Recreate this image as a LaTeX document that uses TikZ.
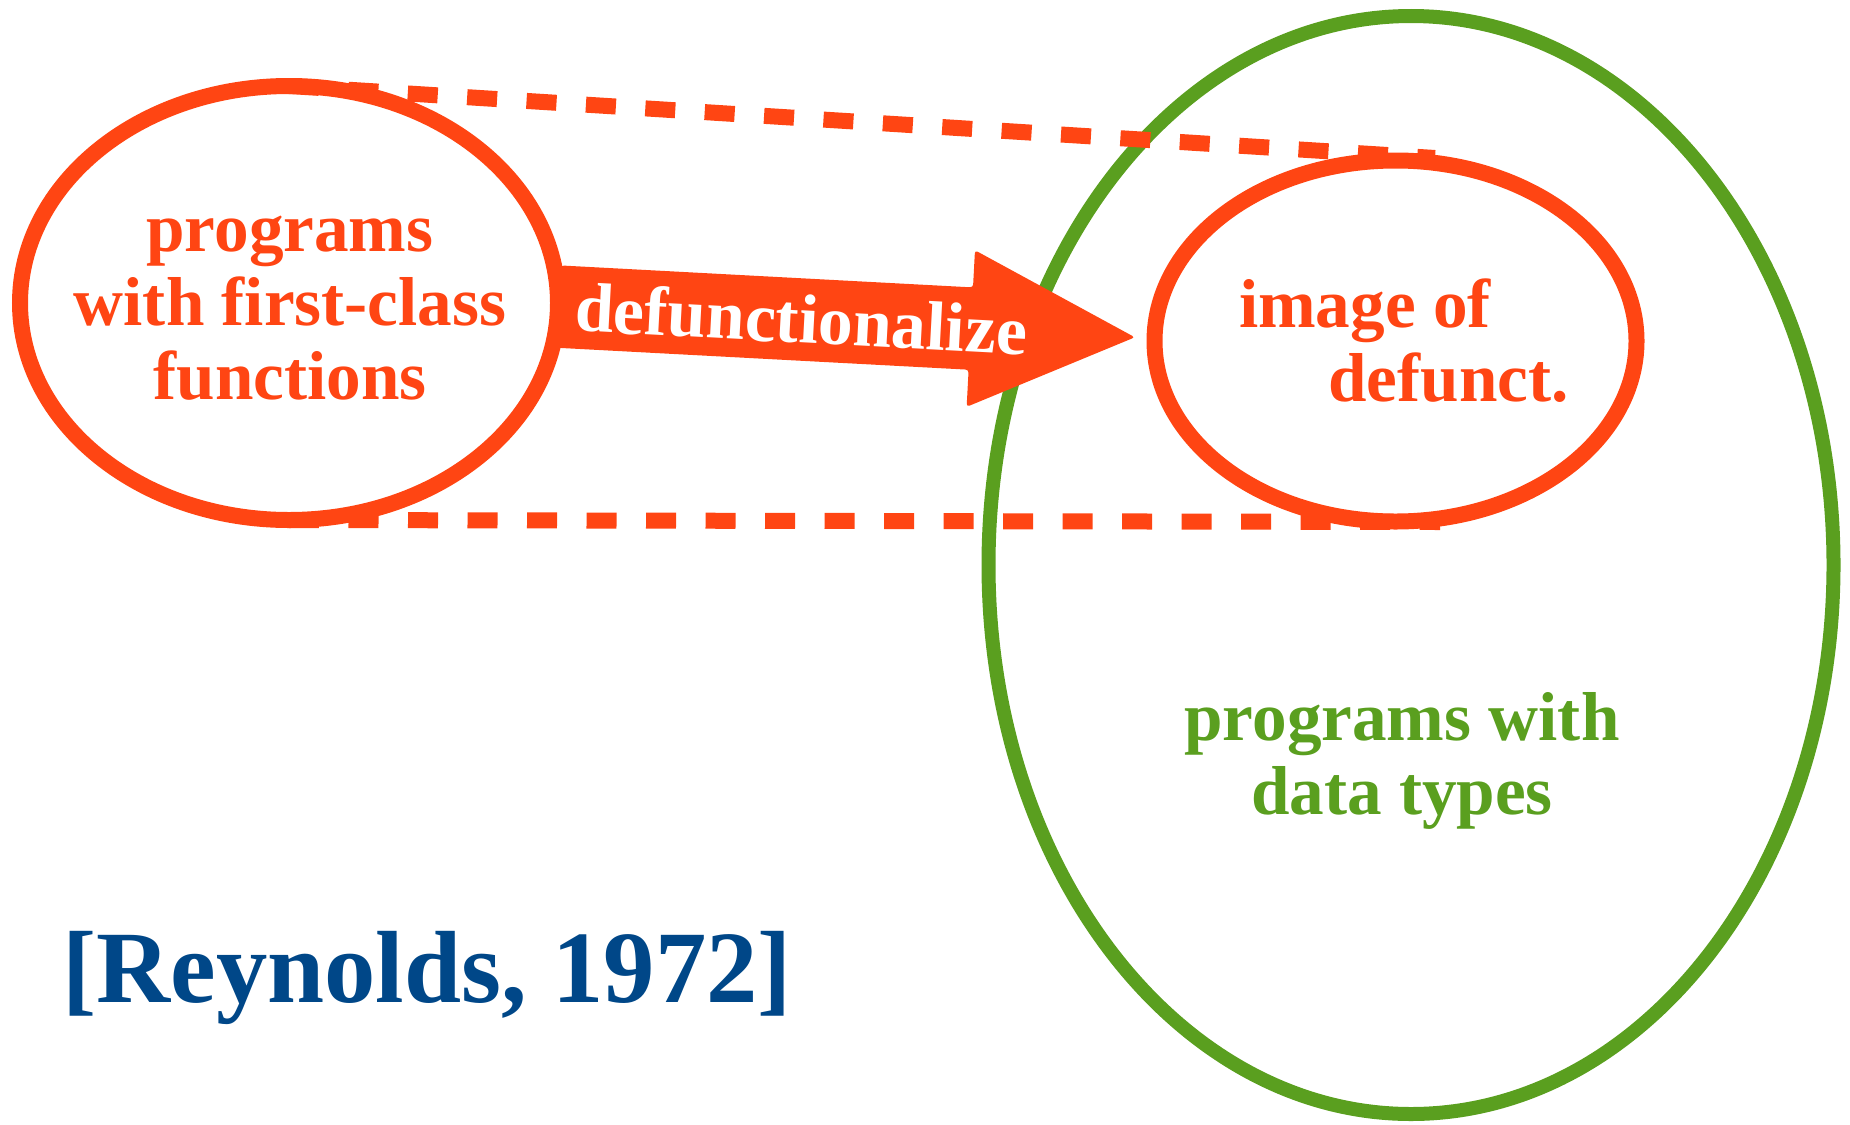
\documentclass[tikz,border=0pt]{standalone}
\usepackage{fontspec}
\setmainfont{Liberation Serif}
\usetikzlibrary{shapes.geometric}
\definecolor{defred}{HTML}{FF4513}
\definecolor{datagreen}{HTML}{5A9F1F}
\definecolor{citeblue}{HTML}{004788}
\begin{document}
\begin{tikzpicture}[x=0.5pt,y=-0.5pt,
  ring/.style={ellipse, draw=defred, line width=8pt, inner sep=0pt, outer sep=0pt, fill=white},
  proj/.style={draw=defred, line width=8pt, dash pattern=on 15pt off 14.75pt},
  lbl/.style={font=\fontsize{34.6}{37}\selectfont\bfseries, inner sep=0pt, align=center}]
\useasboundingbox (0,0) rectangle (1850,1124);

% the large set: programs with data types
\node[ellipse, draw=datagreen, line width=7pt, inner sep=0pt, outer sep=0pt,
      minimum width=422.5pt, minimum height=549pt] (data) at (1411,565) {};

% source set and its image
\node[ring, minimum width=269pt, minimum height=217pt] (src) at (289,303) {};
\node[ring, minimum width=241pt, minimum height=180.5pt] (img) at (1395.5,341) {};

% block arrow: defunctionalize
\coordinate (tail) at (558.7,306.6);
\begin{scope}[shift={(tail)}, rotate=-3.05]
  \fill[defred, rounded corners=1.5pt]
    (0,-41.2) -- (412.7,-41.2) -- (412.7,-78.4) -- (577,0) --
    (412.7,78.4) -- (412.7,41.2) -- (0,41.2) -- cycle;
\end{scope}
\node[font=\fontsize{34.8}{37}\selectfont\bfseries, text=white, inner sep=0pt,
      anchor=base, rotate=-3.05] (arrowlabel) at (800,343) {defunctionalize};

% projection lines
\coordinate (topend) at (1435,158);
\coordinate (botend) at (1440,522);
\draw[proj] (src.north) -- (topend);
\draw[proj] (src.south) -- (botend);

% labels (multi-line nodes sit on the baseline of their last line)
\node[lbl, text=defred, anchor=base] (srctext) at (290,399)
  {programs\\with first-class\\functions};
\node[lbl, text=defred, anchor=base west, align=left] (imgtext) at (1238.6,401.7)
  {image of\\\hspace*{44.7pt}defunct.};
\node[lbl, text=datagreen, anchor=base] (datatext) at (1402,814)
  {programs with\\data types};
\node[font=\fontsize{51.3}{55}\selectfont\bfseries, text=citeblue, inner sep=0pt,
      anchor=base west] (cite) at (62,1002) {[Reynolds, 1972]};
\end{tikzpicture}
\end{document}
